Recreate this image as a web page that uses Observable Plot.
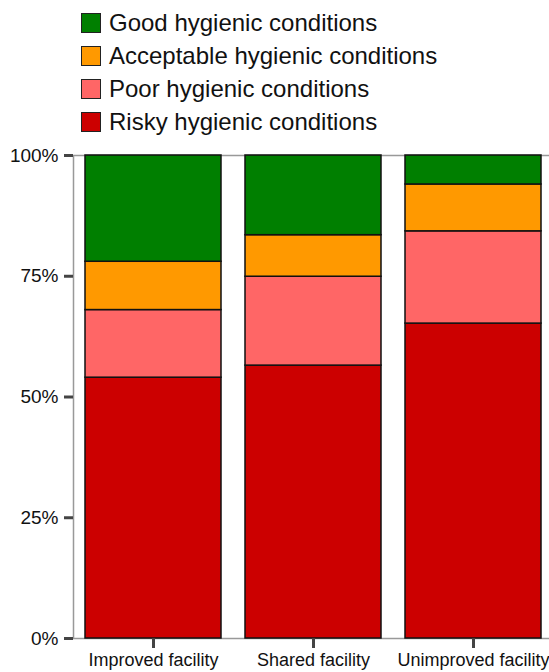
<!DOCTYPE html>
<html>
<head>
<meta charset="utf-8">
<script src="https://cdn.jsdelivr.net/npm/d3@7"></script>
<script src="https://cdn.jsdelivr.net/npm/@observablehq/plot@0.6"></script>
<style>
  html, body { margin: 0; padding: 0; background: #fff; }
  body { width: 549px; height: 672px; overflow: hidden; font-family: "Liberation Sans", Arial, sans-serif; }
  #legend { height: 140px; box-sizing: border-box; padding-top: 6px; }
  .row { height: 33px; display: flex; align-items: center; font-size: 24px; color: #111; }
  .sw { width: 20px; height: 20px; box-sizing: border-box; border: 1.5px solid #222; margin-left: 81px; margin-right: 8px; }
  #chart svg { display: block; }
</style>
</head>
<body>
<div id="legend"></div>
<div id="chart"></div>
<script>
const categories = ["Improved facility", "Shared facility", "Unimproved facility"];
const conditions = ["Risky hygienic conditions", "Poor hygienic conditions", "Acceptable hygienic conditions", "Good hygienic conditions"];
const colors = ["#CC0000", "#FF6666", "#FF9900", "#007F00"];
const risky = [54.0, 56.5, 65.2];
const poor = [14.0, 18.4, 19.1];
const acceptable = [10.0, 8.6, 9.7];
const good = [22.0, 16.5, 6.0];
const yTicks = [0, 25, 50, 75, 100];

const series = [risky, poor, acceptable, good];
const data = [];
conditions.forEach((c, i) => categories.forEach((cat, j) => data.push({category: cat, condition: c, value: series[i][j]})));

// legend (top to bottom: good, acceptable, poor, risky)
const legend = document.getElementById("legend");
for (let i = conditions.length - 1; i >= 0; i--) {
  const row = document.createElement("div");
  row.className = "row";
  const sw = document.createElement("div");
  sw.className = "sw";
  sw.style.background = colors[i];
  const label = document.createElement("span");
  label.textContent = conditions[i].replace(/^\w+/, m => m);
  row.appendChild(sw);
  row.appendChild(label);
  legend.appendChild(row);
}

const chart = Plot.plot({
  width: 549,
  height: 532,
  marginTop: 15,
  marginBottom: 34,
  marginLeft: 73,
  marginRight: -4,
  style: {fontFamily: "Liberation Sans, Arial, sans-serif", background: "#fff", overflow: "hidden"},
  x: {domain: categories, paddingInner: 0.153, paddingOuter: 0.0765},
  y: {domain: [0, 100]},
  color: {domain: conditions, range: colors},
  marks: [
    Plot.frame({stroke: "#999", strokeWidth: 1.5}),
    Plot.barY(data, {x: "category", y: "value", fill: "condition", stroke: "#111", strokeWidth: 1.5, inset: 0}),
    Plot.axisY({ticks: yTicks, tickFormat: d => d + "%", tickSize: 9, tickPadding: 6, stroke: "#444", strokeWidth: 3, fontSize: 19, fill: "#111", label: null}),
    Plot.axisX({tickSize: 10, tickPadding: 5, stroke: "#444", strokeWidth: 3, fontSize: 18, fill: "#111", label: null, letterSpacing: "-0.6px"})
  ]
});
document.getElementById("chart").appendChild(chart);
</script>
</body>
</html>
